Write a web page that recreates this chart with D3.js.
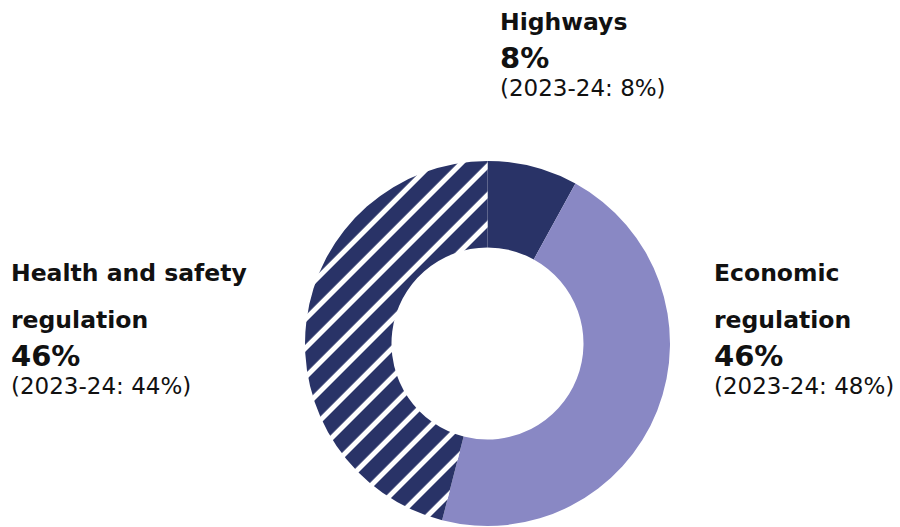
<!DOCTYPE html>
<html>
<head>
<meta charset="utf-8">
<script src="https://cdn.jsdelivr.net/npm/d3@7"></script>
<style>
  body { margin: 0; background: #fff; }
  text { font-family: "DejaVu Sans", sans-serif; fill: #111; }
</style>
</head>
<body>
<div id="chart"></div>
<script>
// data
const categories = ['Highways', 'Economic regulation', 'Health and safety regulation'];
const labelLines = [['Highways'], ['Economic', 'regulation'], ['Health and safety', 'regulation']];
const shares = [8, 46, 46];
const priorShares = [8, 48, 44];
const priorYear = '2023-24';

const width = 900, height = 527;
const cx = 487.5, cy = 343.5;
const outerR = 182.5, innerR = 96;

const svg = d3.select('#chart').append('svg')
  .attr('width', width).attr('height', height);

// hatch pattern for health and safety
const defs = svg.append('defs');
const pat = defs.append('pattern')
  .attr('id', 'hatch')
  .attr('patternUnits', 'userSpaceOnUse')
  .attr('width', 20.5).attr('height', 20.5)
  .attr('patternTransform', 'rotate(45)');
pat.append('rect').attr('width', 20.5).attr('height', 20.5).attr('fill', '#293367');
pat.append('rect').attr('x', 15.5).attr('width', 5.2).attr('height', 20.5).attr('fill', '#fff');

const fills = ['#293367', '#8988c4', 'url(#hatch)'];

const pie = d3.pie().sort(null).value(d => d);
const arc = d3.arc().innerRadius(innerR).outerRadius(outerR);

const g = svg.append('g').attr('transform', `translate(${cx},${cy})`);
g.selectAll('path')
  .data(pie(shares))
  .join('path')
  .attr('d', arc)
  .attr('fill', (d, i) => fills[i]);

// labels (anchor positions)
const labelPos = [
  { x: 500, y: 30 },
  { x: 714, y: 281 },
  { x: 11, y: 281 }
];

labelPos.forEach((p, i) => {
  const t = svg.append('g').attr('transform', `translate(${p.x},${p.y})`);
  let y = 0;
  labelLines[i].forEach((ln, j) => {
    t.append('text').attr('x', 0).attr('y', y)
      .attr('font-size', 23.5).attr('font-weight', 700).text(ln);
    y += 46.5;
  });
  y -= 46.5;
  t.append('text').attr('x', 0).attr('y', y + 38)
    .attr('font-size', 29).attr('font-weight', 700).text(shares[i] + '%');
  t.append('text').attr('x', 0).attr('y', y + 66)
    .attr('font-size', 23).attr('font-weight', 400)
    .text(`(${priorYear}: ${priorShares[i]}%)`);
});
</script>
</body>
</html>
